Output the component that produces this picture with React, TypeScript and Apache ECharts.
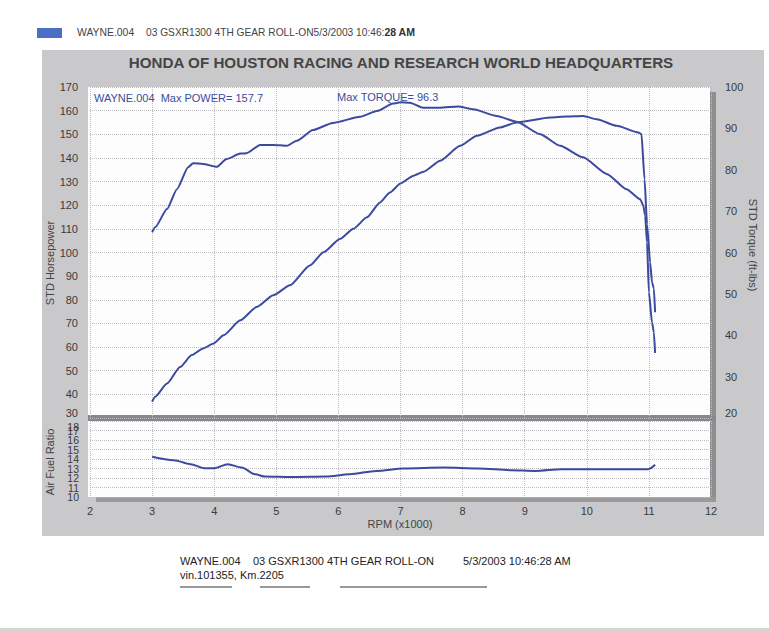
import React, { useEffect, useRef } from 'react';
import * as echarts from 'echarts';

const FONT = '"Liberation Sans", Arial, sans-serif';
const LINE = '#3b4a9e';
const GRIDC = '#bdbdc2';

// [rpm x1000, value]
const torqueData: [number, number][] = [
  [3.0, 64.9], [3.05, 66.1], [3.24, 70.5], [3.4, 75.3], [3.58, 80.6], [3.66, 81.6], [3.82, 81.4],
  [4.04, 80.7], [4.2, 82.6], [4.42, 83.9], [4.52, 84.0], [4.74, 86.0], [4.95, 86.0], [5.17, 85.8],
  [5.33, 87.0], [5.59, 89.6], [5.91, 91.3], [6.35, 92.8], [6.62, 94.2], [6.88, 96.0], [7.0, 96.3],
  [7.15, 96.2], [7.36, 95.0], [7.64, 95.0], [7.93, 95.3], [8.17, 94.6], [8.55, 93.0], [8.87, 91.6],
  [9.25, 88.6], [9.57, 85.8], [9.94, 83.0], [10.32, 79.0], [10.64, 75.3], [10.86, 72.9], [10.91, 71.3],
  [10.94, 68.9], [10.97, 62.4], [11.0, 50.4], [11.05, 43.1], [11.08, 40.7], [11.1, 35.7],
];

const hpData: [number, number][] = [
  [3.0, 36.9], [3.05, 39.0], [3.24, 44.6], [3.45, 51.6], [3.64, 56.6], [3.82, 59.4], [3.99, 61.5],
  [4.15, 65.0], [4.42, 71.3], [4.68, 76.9], [4.95, 81.9], [5.22, 86.1], [5.54, 94.5], [5.76, 100.1],
  [6.03, 105.8], [6.24, 110.0], [6.46, 114.9], [6.67, 121.2], [6.83, 125.4], [7.0, 129.2], [7.21, 132.5],
  [7.37, 134.2], [7.64, 138.8], [7.96, 145.1], [8.23, 149.4], [8.6, 152.9], [8.87, 155.0], [9.41, 157.1],
  [9.68, 157.5], [9.94, 157.7], [10.16, 156.4], [10.48, 153.6], [10.83, 150.8], [10.88, 150.1],
  [10.93, 131.0], [10.97, 112.0], [11.02, 95.8], [11.05, 87.4], [11.08, 84.8], [11.1, 74.7],
];

const afrData: [number, number][] = [
  [3.0, 14.24], [3.35, 13.88], [3.62, 13.46], [3.84, 13.03], [4.0, 13.03], [4.22, 13.46], [4.44, 13.1],
  [4.66, 12.39], [4.82, 12.15], [5.25, 12.1], [5.8, 12.15], [6.18, 12.39], [6.61, 12.75], [7.05, 13.0],
  [7.7, 13.1], [8.25, 13.0], [8.79, 12.82], [9.17, 12.75], [9.6, 12.93], [10.42, 12.93], [10.99, 12.93],
  [11.1, 13.39],
];

const rpmRange = [2, 12, 1];
const hpRange = [30, 170, 10];
const torqueRange = [20, 100, 10];
const afrRange = [10, 18, 1];
const afrLabelsEven = [10, 12, 14, 16, 18];
const afrLabelsOdd = [11, 13, 15, 17];

const titleText = 'HONDA OF HOUSTON RACING AND RESEARCH WORLD HEADQUARTERS';
const legendName = 'WAYNE.004';
const runName = '03 GSXR1300 4TH GEAR ROLL-ON';
const runDate = '5/3/2003 10:46:';
const runSec = '28 AM';
const runDateFull = '5/3/2003 10:46:28 AM';
const vinText = 'vin.101355, Km.2205';
const powerNote = 'WAYNE.004  Max POWER= 157.7';
const torqueNote = 'Max TORQUE= 96.3';

function txt(x: number, y: number, text: string, o: any = {}) {
  const align = o.align || 'left';
  const va = o.va || 'middle';
  return {
    type: 'text',
    x,
    y,
    rotation: o.rotation || 0,
    z: 5,
    style: {
      text,
      fill: o.color || '#333',
      fontSize: o.size || 11,
      fontFamily: FONT,
      fontWeight: o.weight || 'normal',
      align,
      textAlign: align,
      verticalAlign: va,
      textVerticalAlign: va,
      rich: o.rich,
    },
  };
}

function rect(x: number, y: number, w: number, h: number, fill: string, z: number) {
  return { type: 'rect', z, shape: { x, y, width: w, height: h }, style: { fill } };
}

function hline(x1: number, x2: number, y: number) {
  return { type: 'line', z: 5, shape: { x1, y1: y, x2, y2: y }, style: { stroke: '#333', lineWidth: 1 } };
}

export default function App() {
  const ref = useRef<HTMLDivElement>(null);
  useEffect(() => {
    document.body.style.margin = '0';
    const chart = echarts.init(ref.current!, null, { renderer: 'svg' });
    const dotted = { show: true, lineStyle: { color: GRIDC, type: 'dotted', width: 1 } };
    const labelBase = { color: '#3a3a3a', fontSize: 11, fontFamily: FONT, hideOverlap: false };
    const legendRich = {
      n: { fontSize: 10.2, fontFamily: FONT, fill: '#444', color: '#444' },
      b: { fontSize: 10.5, fontFamily: FONT, fill: '#333', color: '#333', fontWeight: 'bold' },
    };
    const hidden = { axisLine: { show: false }, axisTick: { show: false } };
    chart.setOption({
      animation: false,
      backgroundColor: '#ffffff',
      grid: [
        { left: 90, top: 87, width: 621, height: 331 },
        { left: 90, top: 421, width: 621, height: 76 },
      ],
      xAxis: [
        {
          type: 'value', gridIndex: 0, min: rpmRange[0], max: rpmRange[1], interval: rpmRange[2],
          axisLabel: { show: false }, ...hidden, splitLine: dotted,
        },
        {
          type: 'value', gridIndex: 1, min: rpmRange[0], max: rpmRange[1], interval: rpmRange[2],
          axisLabel: { ...labelBase, margin: 8 }, ...hidden, splitLine: dotted,
        },
      ],
      yAxis: [
        {
          type: 'value', gridIndex: 0, position: 'left', min: hpRange[0], max: hpRange[1], interval: hpRange[2],
          axisLabel: { ...labelBase, margin: 12, verticalAlignMinLabel: 'bottom' }, ...hidden, splitLine: dotted,
        },
        {
          type: 'value', gridIndex: 0, position: 'right', min: torqueRange[0], max: torqueRange[1], interval: torqueRange[2],
          axisLabel: { ...labelBase, margin: 14, verticalAlignMinLabel: 'bottom' }, ...hidden, splitLine: { show: false },
        },
        {
          type: 'value', gridIndex: 1, position: 'left', min: afrRange[0], max: afrRange[1], interval: afrRange[2],
          axisLabel: { ...labelBase, fontSize: 10.5, margin: 11, customValues: afrLabelsEven, verticalAlignMaxLabel: 'top' },
          ...hidden, splitLine: dotted,
        },
        {
          type: 'value', gridIndex: 1, position: 'left', offset: 0, min: afrRange[0], max: afrRange[1], interval: afrRange[2],
          axisLabel: { ...labelBase, fontSize: 10.5, margin: 11, customValues: afrLabelsOdd },
          ...hidden, splitLine: { show: false },
        },
      ],
      series: [
        {
          name: 'STD Horsepower', type: 'line', xAxisIndex: 0, yAxisIndex: 0, data: hpData, symbol: 'none',
          smooth: 0.2, smoothMonotone: 'x', lineStyle: { color: LINE, width: 2 }, z: 3,
        },
        {
          name: 'STD Torque', type: 'line', xAxisIndex: 0, yAxisIndex: 1, data: torqueData, symbol: 'none',
          smooth: 0.2, smoothMonotone: 'x', lineStyle: { color: LINE, width: 2 }, z: 3,
        },
        {
          name: 'Air Fuel Ratio', type: 'line', xAxisIndex: 1, yAxisIndex: 2, data: afrData, symbol: 'none',
          smooth: 0.3, smoothMonotone: 'x', lineStyle: { color: LINE, width: 2 }, z: 3,
        },
      ],
      graphic: [
        rect(42, 50, 722, 486, '#c9c9cb', -10),
        rect(88, 87, 622, 328, '#fdfdfd', -9),
        rect(88, 421, 622, 76, '#fdfdfd', -9),
        rect(710, 92, 6, 410, '#8e8e91', -8),
        rect(88, 415, 628, 6, '#88888b', -8),
        rect(96, 497, 620, 5, '#9a9a9d', -8),
        rect(0, 628, 769, 3, '#d4d4d4', -8),
        txt(401, 62, titleText, { align: 'center', size: 15.2, weight: 'bold', color: '#454545' }),
        rect(37, 28, 25, 10, '#4a6fc4', 5),
        txt(77, 32, legendName, { size: 10.4, color: '#444' }),
        txt(146, 32, `{n|${runName}${runDate}}{b|${runSec}}`, { size: 10.2, color: '#444', rich: legendRich }),
        txt(94, 98, powerNote, { color: '#3a4ea0' }),
        txt(337, 97, torqueNote, { color: '#3a4ea0' }),
        txt(50, 263, 'STD Horsepower', { align: 'center', rotation: Math.PI / 2, color: '#444' }),
        txt(753, 245, 'STD Torque (ft-lbs)', { align: 'center', rotation: -Math.PI / 2, color: '#444' }),
        txt(50, 462, 'Air Fuel Ratio', { align: 'center', rotation: Math.PI / 2, color: '#444' }),
        txt(400, 524, 'RPM (x1000)', { align: 'center', color: '#444' }),
        txt(180, 561, legendName, { color: '#222' }),
        txt(253, 561, runName, { color: '#222' }),
        txt(463, 561, runDateFull, { color: '#222' }),
        txt(180, 575, vinText, { color: '#222' }),
        hline(180, 232, 587),
        hline(260, 310, 587),
        hline(340, 487, 587),
      ],
    });
    return () => chart.dispose();
  }, []);
  return <div ref={ref} style={{ width: 769, height: 631, position: 'absolute', left: 0, top: 0 }} />;
}
